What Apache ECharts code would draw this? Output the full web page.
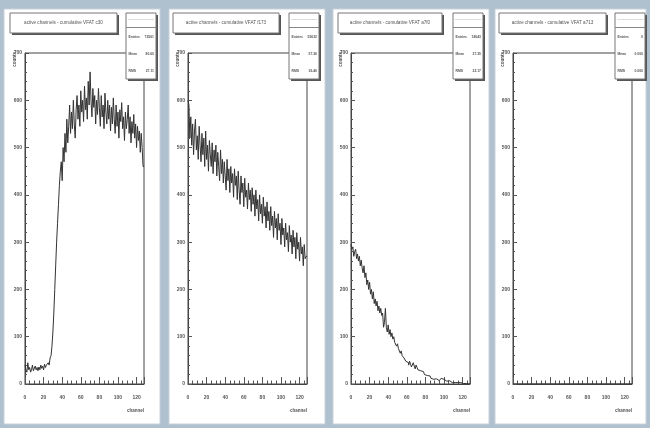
<!DOCTYPE html>
<html>
<head>
<meta charset="utf-8">
<script src="https://cdn.jsdelivr.net/npm/echarts@6/dist/echarts.min.js"></script>
<style>
  html, body { margin: 0; padding: 0; background: #afc0ce; }
  #chart { width: 650px; height: 428px; }
</style>
</head>
<body>
<div id="chart"></div>
<script>
// bin contents per channel (0..127)
const hitsC30 = [
  40, 30, 25, 45, 30, 35, 25, 30, 40, 28, 32, 38, 30, 35, 28, 36,
  30, 40, 33, 38, 30, 42, 35, 40, 38, 45, 40, 55, 60, 80, 110, 150,
  200, 250, 300, 340, 380, 420, 450, 470, 430, 500, 470, 530, 490, 560, 510, 545,
  590, 530, 575, 540, 600, 550, 520, 580, 610, 560, 590, 545, 620, 575, 600, 555,
  630, 580, 605, 560, 640, 590, 660, 600, 565, 625, 585, 610, 550, 600, 570, 625,
  585, 545, 610, 565, 590, 540, 615, 575, 550, 600, 560, 590, 535, 585, 550, 605,
  560, 530, 590, 545, 575, 520, 580, 555, 595, 540, 565, 515, 575, 540, 560, 590,
  530, 565, 510, 555, 530, 570, 520, 550, 500, 545, 515, 535, 490, 530, 500, 460
]
const hitsF173 = [
  600, 590, 520, 565, 505, 550, 485, 535, 560, 495, 525, 475, 545, 505, 470, 530,
  485, 520, 460, 535, 475, 505, 450, 515, 485, 460, 510, 445, 495, 470, 505, 440,
  490, 460, 430, 495, 445, 475, 425, 470, 440, 410, 475, 430, 455, 405, 460, 425,
  445, 395, 455, 420, 440, 390, 450, 410, 380, 440, 405, 425, 375, 435, 395, 410,
  370, 425, 390, 410, 365, 415, 380, 400, 355, 410, 370, 390, 345, 400, 360, 380,
  340, 395, 355, 375, 330, 385, 345, 365, 325, 375, 335, 355, 310, 365, 330, 350,
  305, 360, 325, 340, 295, 350, 315, 330, 290, 340, 305, 320, 280, 335, 300, 315,
  275, 325, 290, 310, 265, 320, 285, 300, 260, 310, 275, 290, 250, 295, 265, 270
]
const hitsA7f0 = [
  295, 285, 290, 270, 280, 285, 265, 275, 260, 270, 250, 262, 245, 235, 250, 225,
  235, 210, 220, 200, 215, 190, 200, 180, 195, 170, 180, 165, 175, 155, 165, 150,
  160, 145, 150, 120, 130, 160, 120, 110, 125, 105, 115, 100, 108, 95, 100, 88,
  92, 80, 85, 75, 78, 65, 70, 60, 62, 55, 58, 48, 52, 45, 40, 48,
  42, 36, 40, 45, 38, 32, 40, 35, 30, 34, 28, 30, 24, 26, 22, 20,
  22, 18, 20, 15, 17, 14, 12, 15, 10, 12, 9, 11, 8, 10, 7, 9,
  6, 12, 14, 10, 8, 12, 6, 8, 5, 7, 4, 5, 3, 4, 2, 3,
  4, 2, 3, 1, 2, 3, 1, 2, 1, 2, 0, 1, 2, 1, 0, 1
]
const hitsA713 = [
  0, 0, 0, 0, 0, 0, 0, 0, 0, 0, 0, 0, 0, 0, 0, 0,
  0, 0, 0, 0, 0, 0, 0, 0, 0, 0, 0, 0, 0, 0, 0, 0,
  0, 0, 0, 0, 0, 0, 0, 0, 0, 0, 0, 0, 0, 0, 0, 0,
  0, 0, 0, 0, 0, 0, 0, 0, 0, 0, 0, 0, 0, 0, 0, 0,
  0, 0, 0, 0, 0, 0, 0, 0, 0, 0, 0, 0, 0, 0, 0, 0,
  0, 0, 0, 0, 0, 0, 0, 0, 0, 0, 0, 0, 0, 0, 0, 0,
  0, 0, 0, 0, 0, 0, 0, 0, 0, 0, 0, 0, 0, 0, 0, 0,
  0, 0, 0, 0, 0, 0, 0, 0, 0, 0, 0, 0, 0, 0, 0, 0
]

const titles = [
  'active channels - cumulative VFAT c30',
  'active channels - cumulative VFAT f173',
  'active channels - cumulative VFAT a7f0',
  'active channels - cumulative VFAT a713'
]
const statEntries = ['72561', '55632', '18043', '0']
const statMean = ['80.60', '57.36', '27.35', '0.000']
const statRms = ['27.11', '36.40', '22.17', '0.000']
const yTicks = [0, 100, 200, 300, 400, 500, 600, 700]

const allHits = [hitsC30, hitsF173, hitsA7f0, hitsA713]

// panel geometry (px)
const panels = [
  { x: 4, w: 156, gx: 25, title: [10, 107], stat: 126 },
  { x: 169, w: 156, gx: 188, title: [173, 106], stat: 289 },
  { x: 333, w: 156, gx: 351, title: [338, 104], stat: 453 },
  { x: 495, w: 151, gx: 513, title: [499, 107], stat: 615 }
]
const GRID_W = 119
const GRID_TOP = 53
const GRID_BOTTOM = 384

// bin edges -> step line, bin i spans [i, i+1]
function toSteps(vals) {
  const pts = vals.map((v, i) => [i, v])
  pts.push([vals.length, vals[vals.length - 1]])
  return pts
}

const font = 'Liberation Sans, Arial, sans-serif'
const grids = []
const xAxes = []
const yAxes = []
const series = []
const graphics = []

panels.forEach((p, k) => {
  // panel canvas
  graphics.push({
    type: 'rect', z: -10,
    shape: { x: p.x, y: 9, width: p.w, height: 415 },
    style: { fill: '#ffffff', stroke: '#c9d2da', lineWidth: 1 }
  })
  // title box with shadow
  graphics.push({
    type: 'rect', z: 10,
    shape: { x: p.title[0] + 2, y: 15, width: p.title[1], height: 20 },
    style: { fill: '#555' }
  })
  graphics.push({
    type: 'rect', z: 11,
    shape: { x: p.title[0], y: 13, width: p.title[1], height: 20 },
    style: { fill: '#fff', stroke: '#777', lineWidth: 1 }
  })
  graphics.push({
    type: 'text', z: 12,
    x: p.title[0] + p.title[1] / 2, y: 23,
    style: { text: titles[k], fill: '#555', font: '4.6px ' + font, align: 'center', verticalAlign: 'middle' }
  })
  // stat box
  const sx = p.stat
  graphics.push({
    type: 'rect', z: 10,
    shape: { x: sx + 2, y: 15, width: 30, height: 66 },
    style: { fill: '#555' }
  })
  graphics.push({
    type: 'rect', z: 11,
    shape: { x: sx, y: 13, width: 30, height: 66 },
    style: { fill: '#fff', stroke: '#777', lineWidth: 1 }
  })
  graphics.push({
    type: 'line', z: 12,
    shape: { x1: sx + 2, y1: 19.5, x2: sx + 28, y2: 19.5 },
    style: { stroke: '#ddd', lineWidth: 1 }
  })
  graphics.push({
    type: 'line', z: 12,
    shape: { x1: sx, y1: 27.5, x2: sx + 30, y2: 27.5 },
    style: { stroke: '#888', lineWidth: 1 }
  })
  const rows = [['Entries', statEntries[k], 37], ['Mean', statMean[k], 54], ['RMS', statRms[k], 71]]
  rows.forEach(r => {
    graphics.push({
      type: 'text', z: 12, x: sx + 2.5, y: r[2],
      style: { text: r[0], fill: '#555', font: 'bold 3.4px ' + font, verticalAlign: 'middle' }
    })
    graphics.push({
      type: 'text', z: 12, x: sx + 28, y: r[2],
      style: { text: r[1], fill: '#555', font: 'bold 3.4px ' + font, align: 'right', verticalAlign: 'middle' }
    })
  })
  // axis titles
  graphics.push({
    type: 'text', z: 12, x: p.gx - 8, y: GRID_TOP - 1, rotation: Math.PI / 2,
    style: { text: 'counts', fill: '#555', font: 'bold 4.5px ' + font, align: 'right', verticalAlign: 'bottom' }
  })
  graphics.push({
    type: 'text', z: 12, x: p.gx + GRID_W, y: 411,
    style: { text: 'channel', fill: '#555', font: 'bold 4.5px ' + font, align: 'right', verticalAlign: 'middle' }
  })

  grids.push({
    left: p.gx, top: GRID_TOP, width: GRID_W, height: GRID_BOTTOM - GRID_TOP,
    show: true, borderColor: '#444', borderWidth: 1
  })
  xAxes.push({
    type: 'value', gridIndex: k, min: 0, max: 128, interval: 20,
    axisLine: { show: true, lineStyle: { color: '#444', width: 1 } },
    axisTick: { show: true, inside: true, length: 7, lineStyle: { color: '#555' } },
    minorTick: { show: true, splitNumber: 4, length: 3.5, lineStyle: { color: '#555' } },
    axisLabel: {
      margin: 11, fontSize: 5, color: '#555', fontWeight: 'bold', fontFamily: font,
      formatter: v => (v % 20 === 0 ? String(v) : '')
    },
    splitLine: { show: false }
  })
  yAxes.push({
    type: 'value', gridIndex: k, min: yTicks[0], max: yTicks[yTicks.length - 1], interval: 100,
    axisLine: { show: true, lineStyle: { color: '#444', width: 1 } },
    axisTick: { show: true, inside: true, length: 4, lineStyle: { color: '#555' } },
    minorTick: { show: true, splitNumber: 5, length: 2, lineStyle: { color: '#555' } },
    axisLabel: { margin: 3, fontSize: 5, color: '#555', fontWeight: 'bold', fontFamily: font },
    splitLine: { show: false }
  })
  series.push({
    type: 'line', xAxisIndex: k, yAxisIndex: k,
    step: 'end', symbol: 'none', silent: true, clip: true,
    lineStyle: { color: '#333', width: 1 },
    data: toSteps(allHits[k])
  })
})

const chart = echarts.init(document.getElementById('chart'), null, { renderer: 'canvas' })
chart.setOption({
  backgroundColor: '#afc0ce',
  animation: false,
  grid: grids,
  xAxis: xAxes,
  yAxis: yAxes,
  series: series,
  graphic: graphics
})
</script>
</body>
</html>
